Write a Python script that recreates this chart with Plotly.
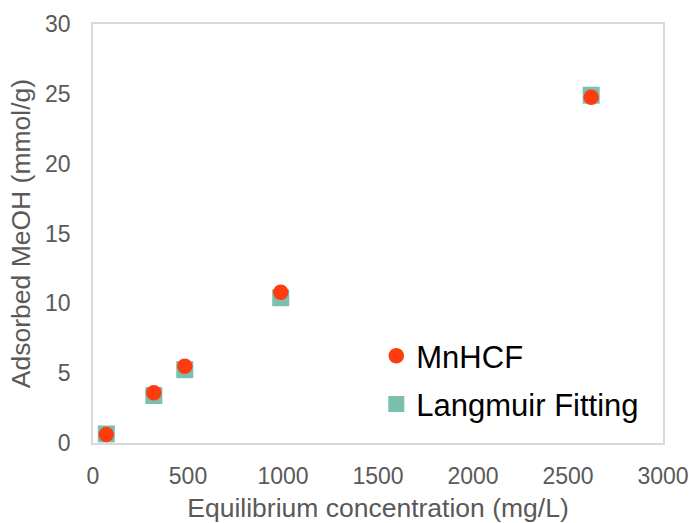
import plotly.graph_objects as go

x_mnhcf = [70, 320, 483, 988, 2622]
y_mnhcf = [0.6, 3.6, 5.5, 10.8, 24.75]
x_lang = [70, 320, 483, 988, 2622]
y_lang = [0.65, 3.4, 5.25, 10.4, 24.9]

FONT = "Liberation Sans, Arial"
fig = go.Figure()
fig.add_trace(go.Scatter(x=x_lang, y=y_lang, mode="markers", name="Langmuir Fitting",
                         marker=dict(symbol="square", size=17, color="#7BBFAE"),
                         legendrank=2, legendgroup="b"))
fig.add_trace(go.Scatter(x=x_mnhcf, y=y_mnhcf, mode="markers", name="MnHCF",
                         marker=dict(symbol="circle", size=15.5, color="#FF3C0F"),
                         legendrank=1, legendgroup="a"))

axis_common = dict(showgrid=False, zeroline=False, showline=True, linecolor="#D9D9D9",
                   linewidth=1.5, mirror=True, ticks="", automargin=False,
                   ticklabeloverflow="allow",
                   tickfont=dict(size=23, color="#595959", family=FONT),
                   title_font=dict(size=26.5, color="#595959", family=FONT))

fig.update_layout(
    width=689, height=523,
    margin=dict(l=93, r=26, t=24, b=80),
    plot_bgcolor="white", paper_bgcolor="white",
    font=dict(family=FONT),
    xaxis=dict(range=[0, 3000], tickvals=[0, 500, 1000, 1500, 2000, 2500, 3000],
               ticklabelstandoff=12,
               title=dict(text="Equilibrium concentration (mg/L)", standoff=10), **axis_common),
    yaxis=dict(range=[0, 30], tickvals=[0, 5, 10, 15, 20, 25, 30],
               ticklabelstandoff=16,
               title=dict(text="Adsorbed MeOH (mmol/g)", standoff=7), **axis_common),
    legend=dict(x=0.497, y=0.272, xanchor="left", yanchor="top", bgcolor="rgba(0,0,0,0)",
                font=dict(size=31, color="#000000", family=FONT),
                tracegroupgap=5, itemsizing="trace"),
)
fig.write_html("out.html")
